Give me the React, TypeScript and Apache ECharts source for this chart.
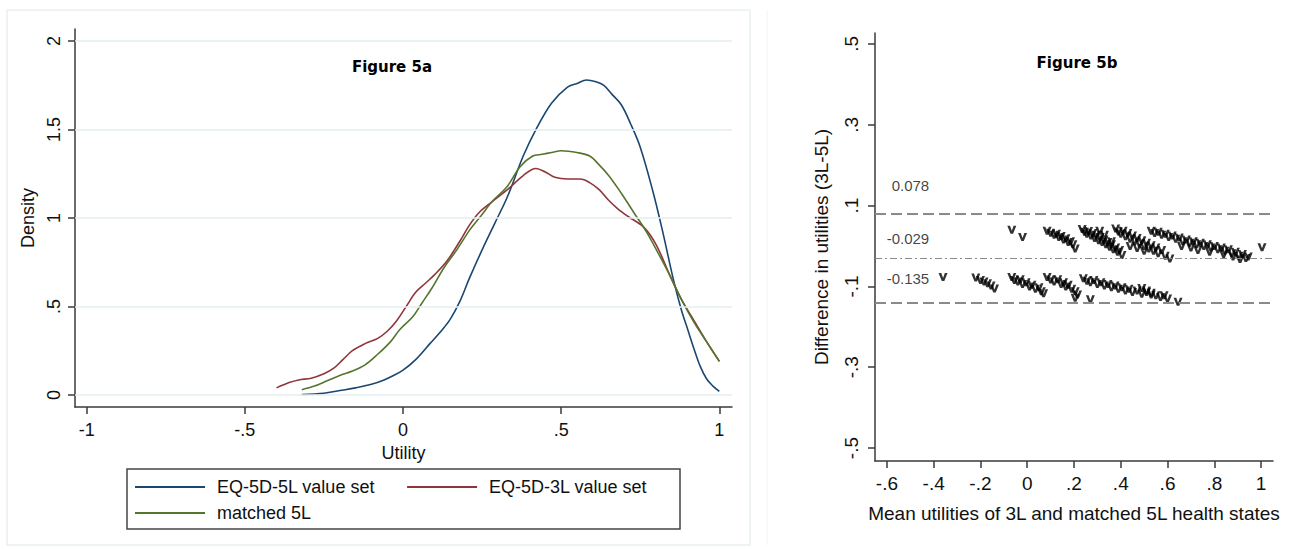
import React, { useEffect, useRef } from "react";
import * as echarts from "echarts";

// ---------- Figure 5a : kernel densities ----------
const densityXTicks = [-1, -0.5, 0, 0.5, 1];
const densityYTicks = [0, 0.5, 1, 1.5, 2];

const eq5lDensity: [number, number][] = [
  [-0.32, 0.003], [-0.25, 0.01], [-0.2, 0.025], [-0.15, 0.04], [-0.1, 0.06],
  [-0.06, 0.085], [-0.03, 0.11], [0, 0.14], [0.04, 0.2], [0.085, 0.29],
  [0.12, 0.36], [0.15, 0.43], [0.18, 0.53], [0.21, 0.66], [0.25, 0.82],
  [0.29, 0.97], [0.33, 1.12], [0.38, 1.35], [0.42, 1.5], [0.47, 1.65],
  [0.52, 1.74], [0.55, 1.76], [0.58, 1.78], [0.61, 1.77], [0.635, 1.75],
  [0.66, 1.7], [0.69, 1.64], [0.72, 1.53], [0.75, 1.4], [0.79, 1.15],
  [0.82, 0.93], [0.855, 0.65], [0.88, 0.48], [0.9, 0.37], [0.92, 0.26],
  [0.94, 0.16], [0.96, 0.09], [0.98, 0.05], [1.0, 0.02],
];

const eq3lDensity: [number, number][] = [
  [-0.4, 0.04], [-0.36, 0.07], [-0.33, 0.085], [-0.29, 0.095], [-0.25, 0.12],
  [-0.22, 0.15], [-0.19, 0.2], [-0.16, 0.25], [-0.12, 0.29], [-0.08, 0.32],
  [-0.05, 0.36], [-0.02, 0.42], [0.01, 0.5], [0.04, 0.58], [0.07, 0.63],
  [0.1, 0.68], [0.14, 0.76], [0.18, 0.87], [0.21, 0.96], [0.24, 1.03],
  [0.28, 1.09], [0.33, 1.16], [0.38, 1.24], [0.42, 1.28], [0.45, 1.26],
  [0.48, 1.23], [0.52, 1.22], [0.56, 1.22], [0.59, 1.2], [0.62, 1.16],
  [0.65, 1.1], [0.68, 1.05], [0.71, 1.01], [0.76, 0.95], [0.8, 0.85],
  [0.845, 0.67], [0.88, 0.54], [0.92, 0.42], [0.96, 0.3], [1.0, 0.19],
];

const matched5lDensity: [number, number][] = [
  [-0.32, 0.03], [-0.28, 0.05], [-0.24, 0.08], [-0.2, 0.11], [-0.16, 0.135],
  [-0.12, 0.17], [-0.08, 0.23], [-0.04, 0.3], [-0.01, 0.37], [0.03, 0.44],
  [0.06, 0.52], [0.09, 0.6], [0.13, 0.72], [0.17, 0.82], [0.21, 0.93],
  [0.25, 1.02], [0.28, 1.09], [0.33, 1.18], [0.37, 1.29], [0.41, 1.35],
  [0.44, 1.36], [0.47, 1.37], [0.5, 1.38], [0.55, 1.37], [0.59, 1.35],
  [0.62, 1.3], [0.65, 1.24], [0.69, 1.14], [0.73, 1.03], [0.77, 0.92],
  [0.81, 0.79], [0.845, 0.67], [0.88, 0.54], [0.92, 0.41], [0.96, 0.3],
  [1.0, 0.19],
];

const densityNames = ["EQ-5D-5L value set", "EQ-5D-3L value set", "matched 5L"];

// ---------- Figure 5b : Bland-Altman ----------
const baXTicks = [-0.6, -0.4, -0.2, 0, 0.2, 0.4, 0.6, 0.8, 1];
const baYTicks = [-0.5, -0.3, -0.1, 0.1, 0.3, 0.5];

const upperBand: [number, number][] = [
  [-0.066, 0.04], [-0.02, 0.022],
  [0.085, 0.038], [0.1, 0.033], [0.115, 0.028], [0.125, 0.03], [0.135, 0.022],
  [0.145, 0.025], [0.155, 0.016], [0.165, 0.019], [0.175, 0.01], [0.185, 0.012],
  [0.195, 0.004], [0.205, -0.006],
  [0.235, 0.042], [0.245, 0.035], [0.255, 0.03], [0.262, 0.037], [0.272, 0.026],
  [0.28, 0.032], [0.288, 0.02], [0.295, 0.028], [0.305, 0.014], [0.312, 0.022],
  [0.31, 0.038], [0.33, 0.028], [0.32, 0.01], [0.328, 0.016], [0.336, 0.004],
  [0.345, 0.01], [0.352, -0.002], [0.36, 0.004], [0.368, -0.008], [0.378, -0.004],
  [0.386, -0.014], [0.395, -0.01], [0.405, -0.022], [0.36, 0.012],
  [0.378, 0.043], [0.39, 0.036], [0.4, 0.03], [0.41, 0.038], [0.42, 0.024],
  [0.43, 0.032], [0.44, 0.018], [0.45, 0.026], [0.46, 0.012], [0.47, 0.02],
  [0.48, 0.006], [0.49, 0.014], [0.5, 0.0], [0.51, 0.008], [0.52, -0.006],
  [0.53, 0.002], [0.54, -0.012], [0.55, -0.004], [0.56, -0.018], [0.575, -0.01],
  [0.59, -0.024], [0.61, -0.031], [0.44, 0.0], [0.47, -0.005], [0.5, -0.012],
  [0.53, 0.038], [0.545, 0.032], [0.56, 0.035], [0.575, 0.028], [0.59, 0.03],
  [0.605, 0.022], [0.62, 0.026], [0.635, 0.018], [0.65, 0.021], [0.665, 0.012],
  [0.68, 0.016], [0.695, 0.008], [0.71, 0.012], [0.725, 0.004], [0.74, 0.008],
  [0.755, 0.0], [0.77, 0.004], [0.785, -0.004], [0.8, 0.0], [0.815, -0.008],
  [0.83, -0.004], [0.845, -0.012], [0.86, -0.008], [0.875, -0.018], [0.89, -0.014],
  [0.905, -0.024], [0.92, -0.02], [0.935, -0.03], [0.945, -0.026],
  [0.66, 0.0], [0.7, -0.004], [0.73, -0.01], [0.78, -0.014], [0.84, -0.02],
  [0.88, -0.026], [0.91, -0.032], [1.004, -0.003],
];

const lowerBand: [number, number][] = [
  [-0.36, -0.077],
  [-0.22, -0.078], [-0.2, -0.084], [-0.185, -0.088], [-0.17, -0.092],
  [-0.155, -0.098], [-0.14, -0.105],
  [-0.066, -0.077], [-0.055, -0.084], [-0.04, -0.088], [-0.03, -0.082],
  [-0.02, -0.094], [-0.005, -0.09], [0.01, -0.1], [0.02, -0.096],
  [0.035, -0.106], [0.05, -0.102], [0.06, -0.112], [0.07, -0.117],
  [0.085, -0.077], [0.1, -0.083], [0.115, -0.088], [0.13, -0.082],
  [0.145, -0.094], [0.155, -0.09], [0.165, -0.1], [0.175, -0.096],
  [0.19, -0.106], [0.205, -0.112], [0.215, -0.12], [0.205, -0.128], [0.27, -0.132],
  [0.24, -0.08], [0.255, -0.086], [0.27, -0.09], [0.285, -0.084], [0.3, -0.094],
  [0.315, -0.09], [0.33, -0.098], [0.345, -0.094], [0.36, -0.102], [0.375, -0.098],
  [0.39, -0.106], [0.405, -0.102], [0.42, -0.11], [0.435, -0.106], [0.45, -0.114],
  [0.47, -0.11], [0.49, -0.118], [0.51, -0.114], [0.53, -0.12],
  [0.49, -0.104], [0.51, -0.11], [0.53, -0.116], [0.55, -0.122], [0.57, -0.126],
  [0.585, -0.122], [0.6, -0.13], [0.645, -0.138],
];

const limitValues = [0.078, -0.029, -0.135];
const limitLabels = ["0.078", "-0.029", "-0.135"];
const limitLabelAnchors: [number, number][] = [[-0.4, 0.149], [-0.4, 0.0185], [-0.4, -0.08]];

const FONT = '"Liberation Sans", Arial, sans-serif';
const AXIS = "#3a3a3a";
const NAVY = "#1a476f";
const MAROON = "#90353b";
const GREEN = "#55752f";

const stata = (v: number) => {
  const s = String(+v.toFixed(3));
  return s.replace(/^(-?)0\./, "$1.");
};

const vSymbol = "path://M0,0 L3,0 L5,6.2 L7,0 L10,0 L6.4,10 L3.6,10 Z";

export default function App() {
  const ref = useRef<HTMLDivElement>(null);
  useEffect(() => {
    if (!ref.current) return;
    const chart = echarts.init(ref.current, undefined, { renderer: "svg" });

    const axisCommon = {
      type: "value" as const,
      axisLine: { show: true, onZero: false, lineStyle: { color: AXIS, width: 1.5 } },
      splitLine: { show: false },
    };

    const legendCommon = {
      left: 135,
      orient: "horizontal",
      icon: "rect",
      itemWidth: 70,
      itemHeight: 2,
      itemGap: 32,
      padding: 0,
      textStyle: { fontSize: 18, color: "#111", fontFamily: FONT, padding: [0, 0, 0, 7] },
    };

    const option: any = {
      animation: false,
      backgroundColor: "#ffffff",
      textStyle: { fontFamily: FONT },
      grid: [
        { left: 75, top: 29, width: 657, height: 378 },
        { left: 875, top: 33, width: 398, height: 428 },
      ],
      xAxis: [
        {
          ...axisCommon,
          gridIndex: 0,
          min: -1.037,
          max: 1.04,
          axisTick: { show: true, customValues: densityXTicks, length: 7, lineStyle: { color: AXIS, width: 1.5 } },
          axisLabel: { customValues: densityXTicks, formatter: stata, fontSize: 18, color: "#111", margin: 14, fontFamily: FONT },
          name: "Utility",
          nameLocation: "middle",
          nameGap: 25,
          nameTextStyle: { fontSize: 18, color: "#111", fontFamily: FONT },
        },
        {
          ...axisCommon,
          gridIndex: 1,
          min: -0.651,
          max: 1.051,
          axisTick: { show: true, customValues: baXTicks, length: 7, lineStyle: { color: AXIS, width: 1.5 } },
          axisLabel: { customValues: baXTicks, formatter: stata, fontSize: 19, color: "#111", margin: 13, fontFamily: FONT },
          name: "Mean utilities of 3L and matched 5L health states",
          nameLocation: "middle",
          nameGap: 43,
          nameTextStyle: { fontSize: 19, color: "#111", fontFamily: FONT },
        },
      ],
      yAxis: [
        {
          ...axisCommon,
          gridIndex: 0,
          min: -0.068,
          max: 2.068,
          axisTick: { show: true, customValues: densityYTicks, length: 7, lineStyle: { color: AXIS, width: 1.5 } },
          axisLabel: { customValues: densityYTicks, formatter: stata, fontSize: 18, color: "#111", margin: 12, rotate: 90, fontFamily: FONT },
          name: "Density",
          nameLocation: "middle",
          nameRotate: 90,
          nameGap: 29,
          nameTextStyle: { fontSize: 18, color: "#111", fontFamily: FONT },
        },
        {
          ...axisCommon,
          gridIndex: 1,
          min: -0.532,
          max: 0.527,
          axisTick: { show: true, customValues: baYTicks, length: 7, lineStyle: { color: AXIS, width: 1.5 } },
          axisLabel: { customValues: baYTicks, formatter: stata, fontSize: 19, color: "#111", margin: 14, rotate: 90, fontFamily: FONT },
          name: "Difference in utilities (3L-5L)",
          nameLocation: "middle",
          nameRotate: 90,
          nameGap: 44,
          nameTextStyle: { fontSize: 19, color: "#111", fontFamily: FONT },
        },
      ],
      legend: [
        { ...legendCommon, data: [densityNames[0], densityNames[1]], top: 478 },
        { ...legendCommon, data: [densityNames[2]], top: 504 },
      ],
      graphic: [
        {
          type: "rect",
          shape: { x: 7, y: 10, width: 743, height: 535 },
          style: { fill: "none", stroke: "#e9f0f2", lineWidth: 1.5 },
          silent: true,
          z: -10,
        },
        {
          type: "line",
          shape: { x1: 767, y1: 10, x2: 767, y2: 545 },
          style: { stroke: "#f2f5f6", lineWidth: 1 },
          silent: true,
          z: -10,
        },
        {
          type: "rect",
          shape: { x: 127, y: 469, width: 553, height: 60 },
          style: { fill: "none", stroke: "#444", lineWidth: 1.5 },
          silent: true,
        },
        {
          type: "text",
          x: 392,
          y: 67,
          style: { text: "Figure 5a", font: 'bold 15px "DejaVu Sans", sans-serif', fill: "#000", align: "center", verticalAlign: "middle" },
        },
        {
          type: "text",
          x: 1077,
          y: 63,
          style: { text: "Figure 5b", font: 'bold 15px "DejaVu Sans", sans-serif', fill: "#000", align: "center", verticalAlign: "middle" },
        },
      ],
      series: [
        {
          name: "gridlines",
          type: "line",
          xAxisIndex: 0,
          yAxisIndex: 0,
          data: [],
          z: 1,
          markLine: {
            silent: true,
            symbol: ["none", "none"],
            label: { show: false },
            lineStyle: { color: "#e5eef1", width: 1.5, type: "solid" },
            data: densityYTicks.map((v) => ({ yAxis: v })),
          },
        },
        ...[eq5lDensity, eq3lDensity, matched5lDensity].map((d, i) => {
          const c = [NAVY, MAROON, GREEN][i];
          return {
            name: densityNames[i],
            type: "line",
            xAxisIndex: 0,
            yAxisIndex: 0,
            data: d,
            smooth: 0.35,
            showSymbol: false,
            symbol: "none",
            z: 3,
            lineStyle: { color: c, width: 1.6 },
            itemStyle: { color: c },
          };
        }),
        {
          name: "limits",
          type: "line",
          xAxisIndex: 1,
          yAxisIndex: 1,
          data: [],
          z: 2,
          markLine: {
            silent: true,
            symbol: ["none", "none"],
            label: { show: false },
            data: [
              { yAxis: limitValues[0], lineStyle: { color: "#8a8a8a", width: 2, type: [11, 5] } },
              { yAxis: limitValues[1], lineStyle: { color: "#8a8a8a", width: 1.2, type: [7, 3, 2, 3] } },
              { yAxis: limitValues[2], lineStyle: { color: "#8a8a8a", width: 2, type: [11, 5] } },
            ],
          },
        },
        {
          name: "differences",
          type: "scatter",
          xAxisIndex: 1,
          yAxisIndex: 1,
          data: [...upperBand, ...lowerBand],
          symbol: vSymbol,
          symbolSize: [9, 8],
          itemStyle: { color: "#000" },
          z: 4,
        },
        {
          name: "limitLabels",
          type: "scatter",
          xAxisIndex: 1,
          yAxisIndex: 1,
          symbol: "circle",
          symbolSize: 1,
          itemStyle: { color: "rgba(0,0,0,0)" },
          data: limitLabelAnchors.map((p, i) => ({ value: p, name: limitLabels[i] })),
          label: {
            show: true,
            position: "left",
            distance: 4,
            formatter: (p: any) => p.name,
            fontSize: 15,
            color: "#111",
            fontFamily: FONT,
          },
          z: 4,
        },
      ],
    };

    chart.setOption(option);
    return () => chart.dispose();
  }, []);

  return (
    <div
      ref={ref}
      style={{ position: "absolute", left: 0, top: 0, width: 1290, height: 549, background: "#fff" }}
    />
  );
}
